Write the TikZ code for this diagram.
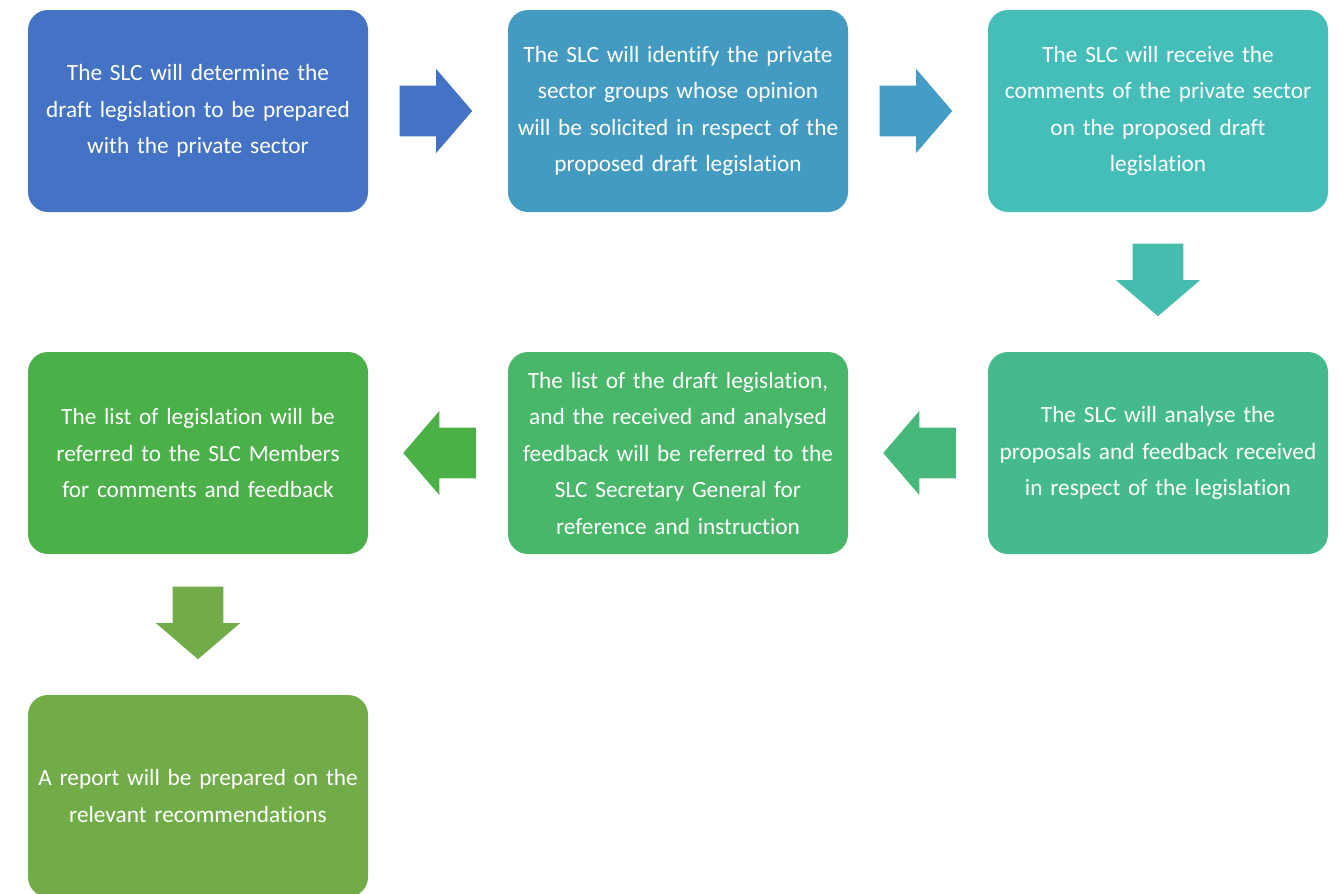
\documentclass[tikz,border=0pt]{standalone}
\usepackage{fontspec}
\setmainfont{Carlito}[Ligatures={NoCommon}]
\usetikzlibrary{calc}
\definecolor{b1}{HTML}{4472C4}
\definecolor{b2}{HTML}{449BC2}
\definecolor{b3}{HTML}{45BDB9}
\definecolor{b4}{HTML}{45BB8D}
\definecolor{b5}{HTML}{48B76A}
\definecolor{b6}{HTML}{4BB049}
\definecolor{b7}{HTML}{71AC48}
\definecolor{a2}{HTML}{449DC4}
\definecolor{a3}{HTML}{45BDAE}
\definecolor{a4}{HTML}{46B879}
\definecolor{a5}{HTML}{4AB146}
\tikzset{
  stepbox/.style={rectangle, rounded corners=20pt, minimum width=340pt,
    minimum height=202pt, text width=336pt, align=center, inner sep=0pt,
    text=white, font={\fontsize{23.3}{36.5}\selectfont}},
  rarrow/.pic={\path[pic actions] (-36.5,-25.3) -- (0,-25.3) -- (0,-42) -- (36,0)
    -- (0,42) -- (0,25.3) -- (-36.5,25.3) -- cycle;},
  larrow/.pic={\path[pic actions] (36.5,-25.3) -- (0,-25.3) -- (0,-42) -- (-36,0)
    -- (0,42) -- (0,25.3) -- (36.5,25.3) -- cycle;},
  darrow/.pic={\path[pic actions] (-25.3,-36.5) -- (-25.3,0) -- (-42,0) -- (0,36)
    -- (42,0) -- (25.3,0) -- (25.3,-36.5) -- cycle;}
}
\begin{document}
\begin{tikzpicture}[x=1pt,y=-1pt]
\useasboundingbox (0,0) rectangle (1342,894);
\node[stepbox, fill=b1] (n1) at (198,111) {The SLC will determine the\\draft legislation to be prepared\\with the private sector};
\node[stepbox, fill=b2] (n2) at (678,111) {The SLC will identify the private\\sector groups whose opinion\\will be solicited in respect of the\\proposed draft legislation};
\node[stepbox, fill=b3] (n3) at (1158,111) {The SLC will receive the\\comments of the private sector\\on the proposed draft\\legislation};
\node[stepbox, fill=b4] (n4) at (1158,453) {The SLC will analyse the\\proposals and feedback received\\in respect of the legislation};
\node[stepbox, fill=b5] (n5) at (678,453) {The list of the draft legislation,\\and the received and analysed\\feedback will be referred to the\\SLC Secretary General for\\reference and instruction};
\node[stepbox, fill=b6] (n6) at (198,453) {The list of legislation will be\\referred to the SLC Members\\for comments and feedback};
\node[stepbox, fill=b7] (n7) at (198,796) {A report will be prepared on the\\relevant recommendations};
\pic[fill=b1] at ($(n1.east)+(68,0)$) {rarrow};
\pic[fill=a2] at ($(n2.east)+(68,0)$) {rarrow};
\pic[fill=a3] at ($(n3.south)+(0,68)$) {darrow};
\pic[fill=a4] at ($(n4.west)+(-68.5,0)$) {larrow};
\pic[fill=a5] at ($(n5.west)+(-68.5,0)$) {larrow};
\pic[fill=b7] at ($(n6.south)+(0,69)$) {darrow};
\end{tikzpicture}
\end{document}
